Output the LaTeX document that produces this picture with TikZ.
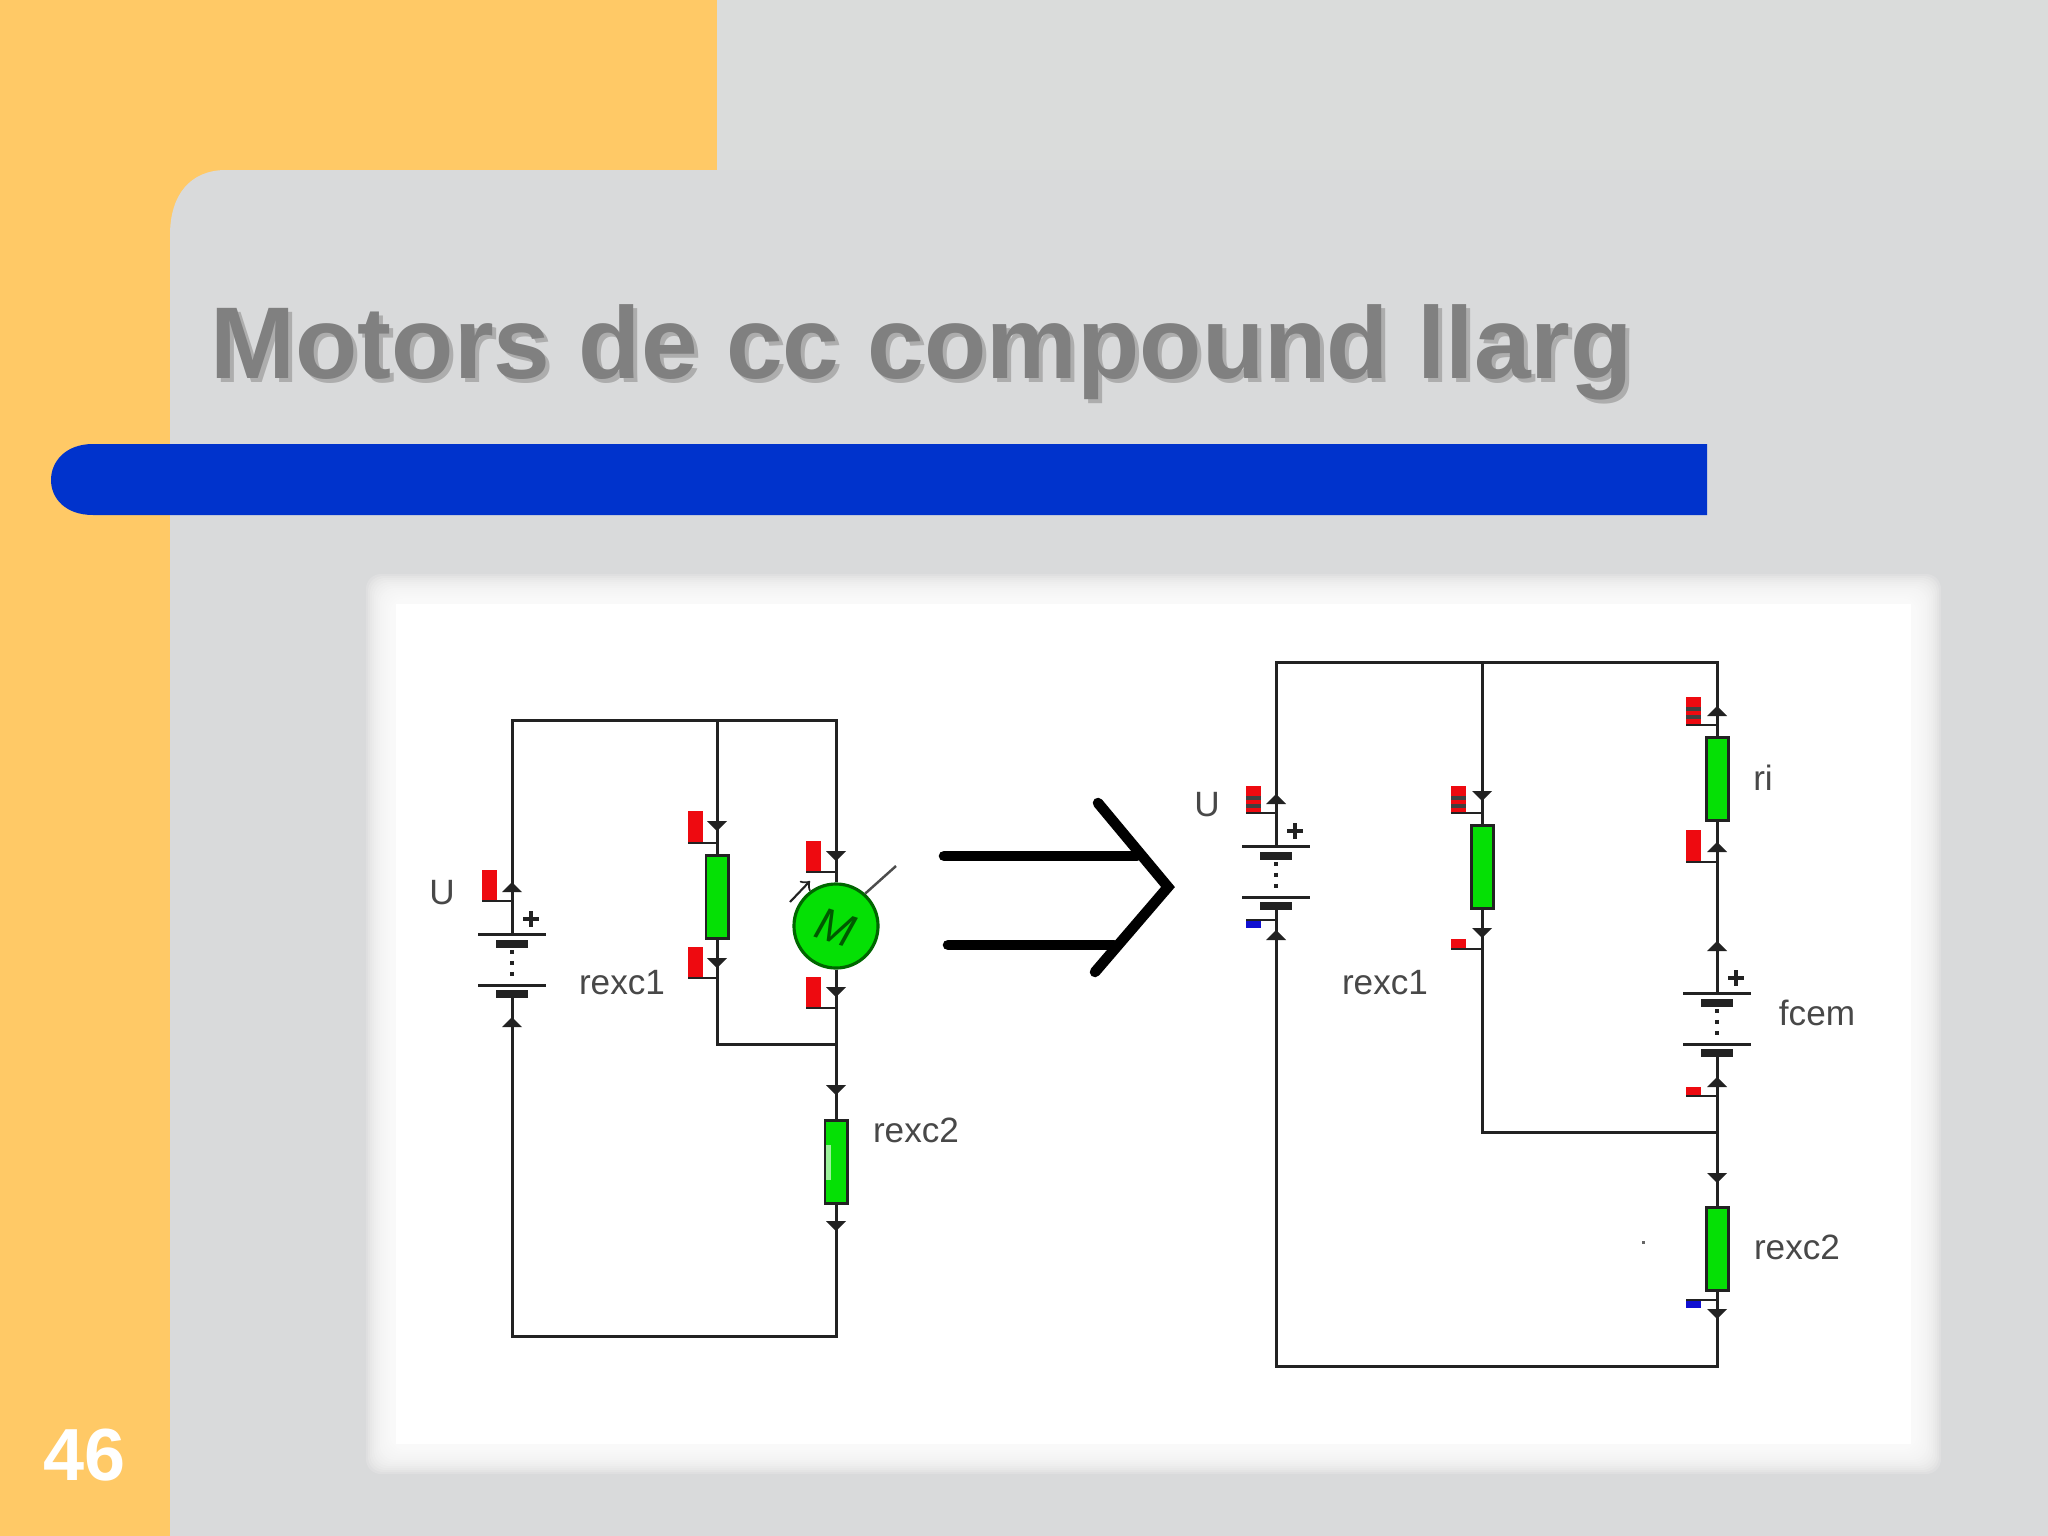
\documentclass[tikz,border=0pt]{standalone}
\usepackage{fontspec}
\setmainfont{Liberation Sans}
\usetikzlibrary{arrows}
\usetikzlibrary{calc}
\usetikzlibrary{positioning}
\definecolor{slideorange}{HTML}{FFC966}
\definecolor{slidegrey}{HTML}{D9DADB}
\definecolor{slidetop}{HTML}{DADCDB}
\definecolor{barblue}{HTML}{0033CC}
\definecolor{partgreen}{HTML}{05E005}
\definecolor{wireblack}{HTML}{222222}
\definecolor{labelgrey}{HTML}{484848}
\definecolor{probered}{HTML}{EE0A10}
\definecolor{probeblue}{HTML}{1010D0}
\tikzset{
  wire/.style={draw=wireblack,line width=0.85pt},
  resbox/.style={draw=wireblack,fill=partgreen,line width=0.85pt,inner sep=0pt,minimum width=0.22cm,minimum height=0.82cm},
  motorbox/.style={circle,draw=black!60!green,fill=partgreen,line width=0.9pt,inner sep=0pt,minimum size=0.84cm},
  lbl/.style={text=labelgrey,font=\fontsize{10}{12}\selectfont,inner sep=0pt},
  bigline/.style={draw=black,line width=3pt,line cap=round,line join=miter},
}
\begin{document}
\begin{tikzpicture}[x=0.01cm,y=-0.01cm]
\useasboundingbox (0,0) rectangle (2048,1536);
% background of the slide
\fill[slidetop] (0,0) rectangle (2048,1536);
\fill[slideorange] (0,0) rectangle (717,170);
\fill[slideorange] (0,0) rectangle (300,300);
\fill[slideorange] (0,0) rectangle (170,1536);
\fill[slidegrey] (170,1536) -- (170,235) .. controls (170,195) and (190,170) .. (226,170) -- (2048,170) -- (2048,1536) -- cycle;
\fill[barblue] (1707,444) -- (93,444) .. controls (65,444) and (51,462) .. (51,480) .. controls (51,498) and (65,515) .. (93,515) -- (1707,515) -- cycle;
% title, with its shadow
\node[anchor=base west,inner sep=0pt,text=black!32,font=\fontsize{29}{34}\bfseries\selectfont] (titleshadow) at (214,382) {Motors de cc compound llarg};
\node[anchor=base west,inner sep=0pt,text=black!50,font=\fontsize{29}{34}\bfseries\selectfont] (title) at (210,378) {Motors de cc compound llarg};
\node[anchor=base,inner sep=0pt,text=white,font=\fontsize{21}{24}\bfseries\selectfont] (pagenum) at (85,1480) {46};
% white sheet, soft edge
\foreach \d in {0,2,...,28}{
    \fill[white,opacity=0.16,rounded corners=0.15cm] (366+\d,574+\d) rectangle (1941-\d,1474-\d);
}
\fill[white] (396,604) rectangle (1911,1444);

% left circuit
\coordinate (tlA) at (512,720);
\coordinate (tmA) at (717,720);
\coordinate (trA) at (836,720);
\coordinate (blA) at (512,1336);
\coordinate (brA) at (836,1336);
\coordinate (jmA) at (717,1044);
\coordinate (jrA) at (836,1044);
\coordinate (batAp) at (512,934);
\coordinate (batAn) at (512,994);
\node[resbox] (rexcA) at (717,897) {};
\node[resbox] (rexcB) at (836,1162) {};
\node[motorbox] (motA) at (836,926) {};
\node[text=black!65!green,rotate=-18,font=\fontsize{13}{15}\itshape\selectfont,inner sep=0pt] (motlabel) at (835,927) {M};
\fill[partgreen!40!white] (826,1145) rectangle (831,1180);
\draw[wire] (batAp) -- (tlA) -- (trA) -- (motA);
\draw[wire] (tmA) -- (rexcA) -- (jmA) -- (jrA);
\draw[wire] (motA) -- (rexcB) -- (brA) -- (blA) -- (batAn);
\coordinate (tickA) at (896,866);
\draw[draw=black!70,line width=0.7pt] (motA.48) -- (tickA);
\coordinate (smallS) at (790,902);
\coordinate (smallE) at (810,881);
\draw[->,draw=wireblack,line width=0.6pt] (smallS) -- (smallE);

% right circuit
\coordinate (tlC) at (1276,662);
\coordinate (tmC) at (1482,662);
\coordinate (trC) at (1717,662);
\coordinate (blC) at (1276,1366);
\coordinate (brC) at (1717,1366);
\coordinate (jmC) at (1482,1132);
\coordinate (jrC) at (1717,1132);
\coordinate (batCp) at (1276,846);
\coordinate (batCn) at (1276,907);
\coordinate (batDp) at (1717,993);
\coordinate (batDn) at (1717,1053);
\node[resbox] (rexcC) at (1482,867) {};
\node[resbox] (riC) at (1717,779) {};
\node[resbox] (rexcD) at (1717,1249) {};
\draw[wire] (batCp) -- (tlC) -- (trC) -- (riC) -- (batDp);
\draw[wire] (tmC) -- (rexcC) -- (jmC) -- (jrC);
\draw[wire] (batDn) -- (rexcD) -- (brC) -- (blC) -- (batCn);

% batteries
\foreach \x/\y in {512/934,1276/846,1717/993}{
    \draw[wire] (\x-34,\y) -- (\x+34,\y);
    \draw[wireblack,line width=2pt] (\x-16,\y+10) -- (\x+16,\y+10);
    \draw[wireblack,line width=1.1pt,dotted] (\x,\y+16) -- (\x,\y+45);
    \draw[wire] (\x-34,\y+51) -- (\x+34,\y+51);
    \draw[wireblack,line width=2pt] (\x-16,\y+60) -- (\x+16,\y+60);
    \draw[wireblack,line width=0.9pt] (\x+11,\y-15) -- (\x+27,\y-15);
    \draw[wireblack,line width=0.9pt] (\x+19,\y-23) -- (\x+19,\y-7);
}
% small arrow heads on the wires, up
\foreach \x/\y in {512/888,512/1023,1276/800,1276/936,1717/712,1717/848,1717/947,1717/1083}{
    \fill[wireblack] (\x-10,\y+4) -- (\x+10,\y+4) -- (\x,\y-6) -- cycle;
}
% and down
\foreach \x/\y in {717/825,717/962,836/855,836/991,836/1089,836/1225,1482/795,1482/932,1717/1177,1717/1313}{
    \fill[wireblack] (\x-10,\y-4) -- (\x+10,\y-4) -- (\x,\y+6) -- cycle;
}
% test leads, red
\foreach \x/\wx/\yt/\yb in {482/512/870/901,688/717/811/843,688/717/947/978,806/836/841/872,806/836/977/1008,1246/1276/786/813,1451/1482/786/813,1686/1717/697/725,1686/1717/830/862,1451/1482/939/949,1686/1717/1087/1096}{
    \fill[probered] (\x,\yt) rectangle (\x+15,\yb);
    \draw[wireblack,line width=0.8pt] (\x,\yb) -- (\wx,\yb);
}
% dark bands on three of them
\foreach \x/\y in {1246/796,1451/796,1686/707}{
    \fill[black!75] (\x,\y) rectangle (\x+15,\y+4);
    \fill[black!75] (\x,\y+8) rectangle (\x+15,\y+12);
}
% blue ones
\foreach \x/\wx/\y in {1246/1276/920,1686/1717/1300}{
    \fill[probeblue] (\x,\y) rectangle (\x+15,\y+8);
    \draw[wireblack,line width=0.8pt] (\x,\y) -- (\wx,\y);
}

% labels
\node[lbl] (uA) at (442,893) {U};
\node[lbl] (rexcAlabel) at (622,983) {rexc1};
\node[lbl] (rexcBlabel) at (916,1130) {rexc2};
\node[lbl] (uC) at (1207,805) {U};
\node[lbl] (rexcClabel) at (1385,983) {rexc1};
\node[lbl] (riClabel) at (1763,778) {ri};
\node[lbl] (fcemlabel) at (1817,1013) {fcem};
\node[lbl] (rexcDlabel) at (1797,1247) {rexc2};
\fill[black!60] (1642,1241) rectangle (1645,1244);

% big arrow between the circuits
\coordinate (bigAs) at (944,856);
\coordinate (bigAe) at (1137,856);
\coordinate (bigBs) at (948,945);
\coordinate (bigBe) at (1114,945);
\coordinate (chevT) at (1098,803);
\coordinate (chevM) at (1168,887);
\coordinate (chevB) at (1095,972);
\draw[bigline] (bigAs) -- (bigAe);
\draw[bigline] (bigBs) -- (bigBe);
\draw[bigline] (chevT) -- (chevM) -- (chevB);
\end{tikzpicture}
\end{document}
